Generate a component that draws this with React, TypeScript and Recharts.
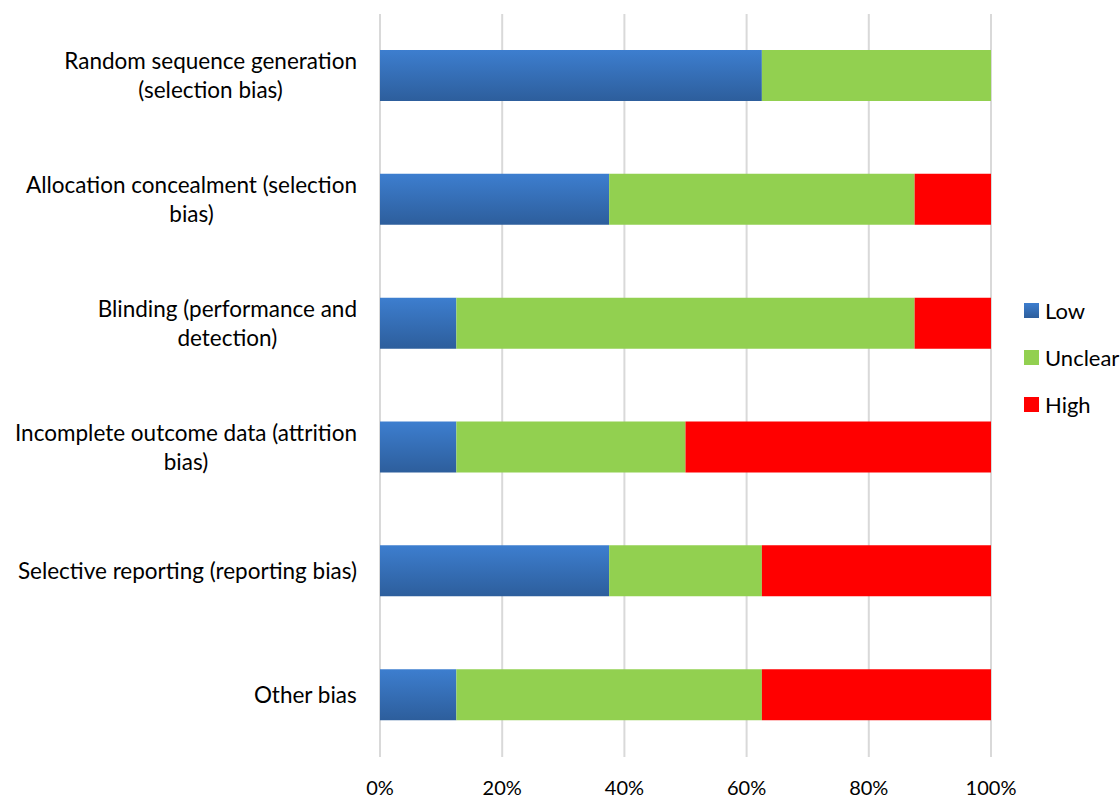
import React from 'react';
import { BarChart, Bar, XAxis, YAxis, CartesianGrid, Legend } from 'recharts';

// Risk-of-bias summary: share of studies per judgement, per domain
const categories = [
  'Random sequence generation\n(selection bias)',
  'Allocation concealment (selection\nbias)',
  'Blinding (performance and\ndetection)',
  'Incomplete outcome data (attrition\nbias)',
  'Selective reporting (reporting bias)',
  'Other bias',
];
const lowShare = [0.625, 0.375, 0.125, 0.125, 0.375, 0.125];
const unclearShare = [0.375, 0.5, 0.75, 0.375, 0.25, 0.5];
const highShare = [0, 0.125, 0.125, 0.5, 0.375, 0.375];
const xTicks = [0, 0.2, 0.4, 0.6, 0.8, 1];

const series = [
  { key: 'Low', color: '#3a78c6', fill: 'url(#lowFill)' },
  { key: 'Unclear', color: '#92d050', fill: '#92d050' },
  { key: 'High', color: '#ff0000', fill: '#ff0000' },
];

const data = categories.map((name, i) => ({
  name,
  Low: lowShare[i],
  Unclear: unclearShare[i],
  High: highShare[i],
}));

const FONT = 'Lato, sans-serif';
const LABEL_SIZE = 22.5;
const TICK_SIZE = 20;
const LEGEND_SIZE = 22;

let measureCtx: CanvasRenderingContext2D | null = null;
function textWidth(s: string) {
  if (!measureCtx) {
    measureCtx = document.createElement('canvas').getContext('2d');
  }
  if (!measureCtx) return s.length * 10;
  measureCtx.font = `${LABEL_SIZE}px ${FONT}`;
  return measureCtx.measureText(s).width;
}

// multi-line labels are centred on their widest line, block right-aligned
const CategoryTick = ({ x, y, payload }: any) => {
  const lines: string[] = String(payload.value).split('\n');
  const right = x - 15;
  const w = Math.max(...lines.map(textWidth));
  const cx = right - w / 2;
  const lh = 29;
  const top = y - ((lines.length - 1) * lh) / 2 - 1;
  return (
    <text
      textAnchor="middle"
      fontFamily={FONT}
      fontSize={LABEL_SIZE}
      fill="#000"
      dominantBaseline="central"
    >
      {lines.map((l, i) => (
        <tspan key={i} x={cx} y={top + i * lh}>
          {l}
        </tspan>
      ))}
    </text>
  );
};

const PercentTick = ({ x, y, payload }: any) => (
  <text
    x={x}
    y={y + 22}
    textAnchor="middle"
    dominantBaseline="central"
    fontFamily={FONT}
    fontSize={TICK_SIZE}
    fill="#000"
  >
    {`${Math.round(payload.value * 100)}%`}
  </text>
);

const LegendBox = () => (
  <div style={{ fontFamily: FONT, fontSize: LEGEND_SIZE, color: '#000' }}>
    {series.map((s) => (
      <div
        key={s.key}
        style={{ display: 'flex', alignItems: 'center', height: 47 }}
      >
        <span
          style={{
            display: 'inline-block',
            width: 15,
            height: 15,
            marginRight: 6,
            background:
              s.key === 'Low'
                ? 'linear-gradient(#3d7ecf, #2d5e9c)'
                : s.color,
          }}
        />
        {s.key}
      </div>
    ))}
  </div>
);

export default function App() {
  return (
    <div style={{ position: 'absolute', left: 0, top: 0, background: '#fff' }}>
      <BarChart
        width={1120}
        height={798}
        data={data}
        layout="vertical"
        margin={{ top: 14, right: 129, bottom: 0, left: 0 }}
        barSize={51}
      >
        <defs>
          <linearGradient id="lowFill" x1="0" y1="0" x2="0" y2="1">
            <stop offset="0%" stopColor="#3d7ecf" />
            <stop offset="100%" stopColor="#2d5e9c" />
          </linearGradient>
        </defs>
        <CartesianGrid horizontal={false} stroke="#d9d9d9" strokeWidth={2} />
        <XAxis
          type="number"
          domain={[0, 1]}
          ticks={xTicks}
          axisLine={false}
          tickLine={false}
          height={41}
          tick={<PercentTick />}
          interval={0}
        />
        <YAxis
          type="category"
          dataKey="name"
          width={380}
          axisLine={false}
          tickLine={false}
          tick={<CategoryTick />}
          interval={0}
        />
        <Legend
          layout="vertical"
          align="center"
          verticalAlign="middle"
          content={<LegendBox />}
          wrapperStyle={{ left: 1024, top: 287, width: 'auto' }}
        />
        {series.map((s) => (
          <Bar
            key={s.key}
            dataKey={s.key}
            stackId="bias"
            fill={s.fill}
            isAnimationActive={false}
          />
        ))}
      </BarChart>
    </div>
  );
}
